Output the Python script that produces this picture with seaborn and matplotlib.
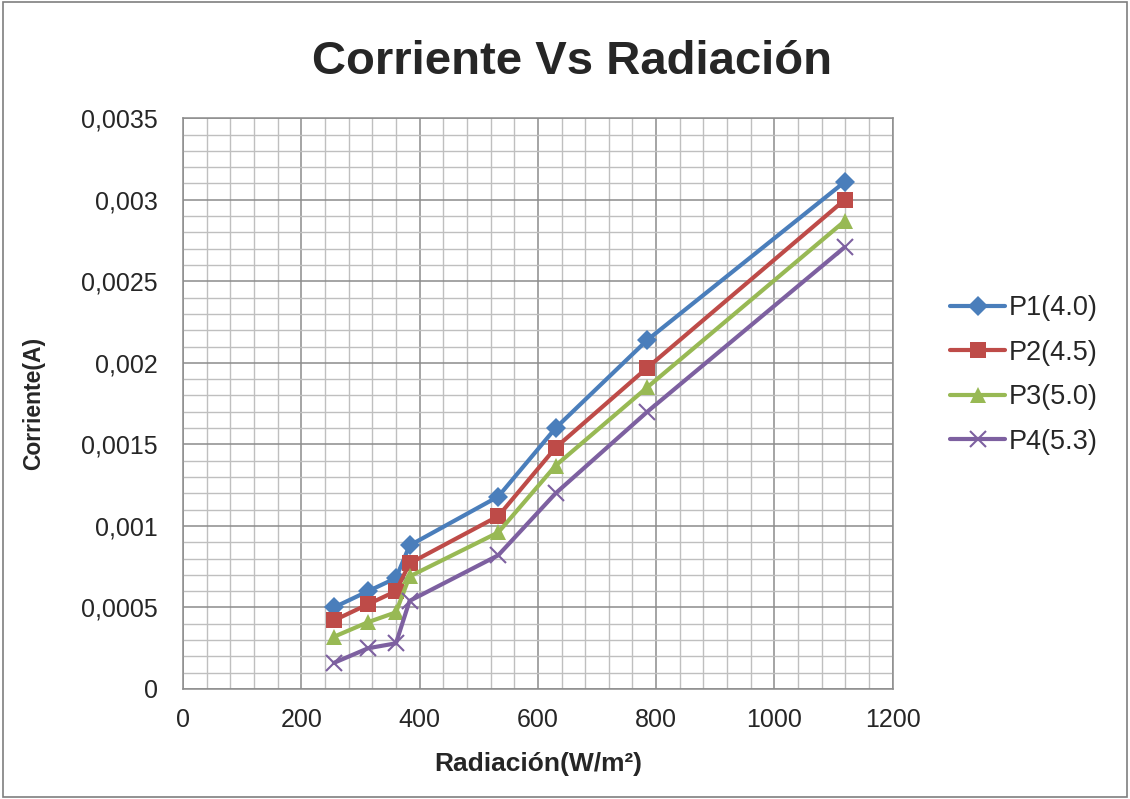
import matplotlib
matplotlib.use("Agg")
import matplotlib.pyplot as plt
import matplotlib.ticker as mticker
from matplotlib.patches import Rectangle
from matplotlib import font_manager
import seaborn as sns
import pandas as pd

radiacion = [255, 313, 360, 383, 533, 630, 785, 1119]
p1 = [0.00050, 0.00060, 0.00068, 0.00088, 0.00118, 0.00160, 0.00214, 0.00311]
p2 = [0.00042, 0.00052, 0.00060, 0.00077, 0.00106, 0.00148, 0.00197, 0.00300]
p3 = [0.00032, 0.00041, 0.00047, 0.00069, 0.00096, 0.00137, 0.00185, 0.00287]
p4 = [0.00016, 0.00025, 0.00028, 0.00054, 0.00082, 0.00120, 0.00170, 0.00271]
series_names = ["P1(4.0)", "P2(4.5)", "P3(5.0)", "P4(5.3)"]

sns.set_style("white")
plt.rcParams['font.family'] = ['Liberation Sans', 'DejaVu Sans']

names = {f.name for f in font_manager.fontManager.ttflist}
narrow = ['Liberation Sans Narrow', 'Liberation Sans'] if 'Liberation Sans Narrow' in names else ['Liberation Sans']

rows = []
for name, vals in zip(series_names, [p1, p2, p3, p4]):
    for x, y in zip(radiacion, vals):
        rows.append({"Radiacion": x, "Corriente": y, "Serie": name})
df = pd.DataFrame(rows)

colors = {"P1(4.0)": "#4A7EBB", "P2(4.5)": "#BE4B48", "P3(5.0)": "#98B954", "P4(5.3)": "#7D60A0"}
markers = {"P1(4.0)": "D", "P2(4.5)": "s", "P3(5.0)": "^", "P4(5.3)": "x"}
msizes = {"P1(4.0)": 10, "P2(4.5)": 12, "P3(5.0)": 12, "P4(5.3)": 12}

fig = plt.figure(figsize=(11.3, 7.99), dpi=100)
ax = fig.add_axes([0.162, 0.1377, 0.628, 0.7143])

for name in series_names:
    sub = df[df["Serie"] == name]
    sns.lineplot(data=sub, x="Radiacion", y="Corriente", ax=ax, color=colors[name],
                 linewidth=3.0, marker=markers[name], markersize=msizes[name],
                 markeredgewidth=1.5 if markers[name] == "x" else 0,
                 markeredgecolor=colors[name], label=name, zorder=3)

ax.set_xlim(0, 1200)
ax.set_ylim(0, 0.0035)
ax.xaxis.set_major_locator(mticker.MultipleLocator(200))
ax.xaxis.set_minor_locator(mticker.MultipleLocator(40))
ax.yaxis.set_major_locator(mticker.MultipleLocator(0.0005))
ax.yaxis.set_minor_locator(mticker.MultipleLocator(0.0001))
ax.yaxis.set_major_formatter(mticker.FuncFormatter(lambda v, p: ("%g" % round(v, 6)).replace(".", ",")))
ax.grid(which="major", color="#8c8c8c", linewidth=1.1)
ax.grid(which="minor", color="#bfbfbf", linewidth=1.0)
ax.set_axisbelow(True)
for s in ax.spines.values():
    s.set_color("#8c8c8c")
    s.set_linewidth(1.1)
ax.tick_params(axis="both", which="both", length=0)
ax.tick_params(axis="y", labelsize=18, pad=18)
ax.tick_params(axis="x", labelsize=18, pad=14)
for t in ax.get_xticklabels():
    t.set_family(narrow)

ax.set_xlabel("Radiación(W/m²)", fontsize=19, fontweight="bold", labelpad=14, family=narrow)
ax.set_ylabel("Corriente(A)", fontsize=16.5, fontweight="bold", labelpad=26)
fig.text(0.506, 0.922, "Corriente Vs Radiación", fontsize=34, fontweight="bold",
         ha="center", va="center")

leg = ax.legend(loc="center left", bbox_to_anchor=(1.047, 0.55), frameon=False, fontsize=19.5,
                handlelength=2.0, labelspacing=0.68, handletextpad=0.15)

fig.patches.append(Rectangle((0.003, 0.003), 0.994, 0.994, transform=fig.transFigure,
                             fill=False, edgecolor="#7f7f7f", linewidth=1.2))

fig.savefig("out.png", dpi=100)
